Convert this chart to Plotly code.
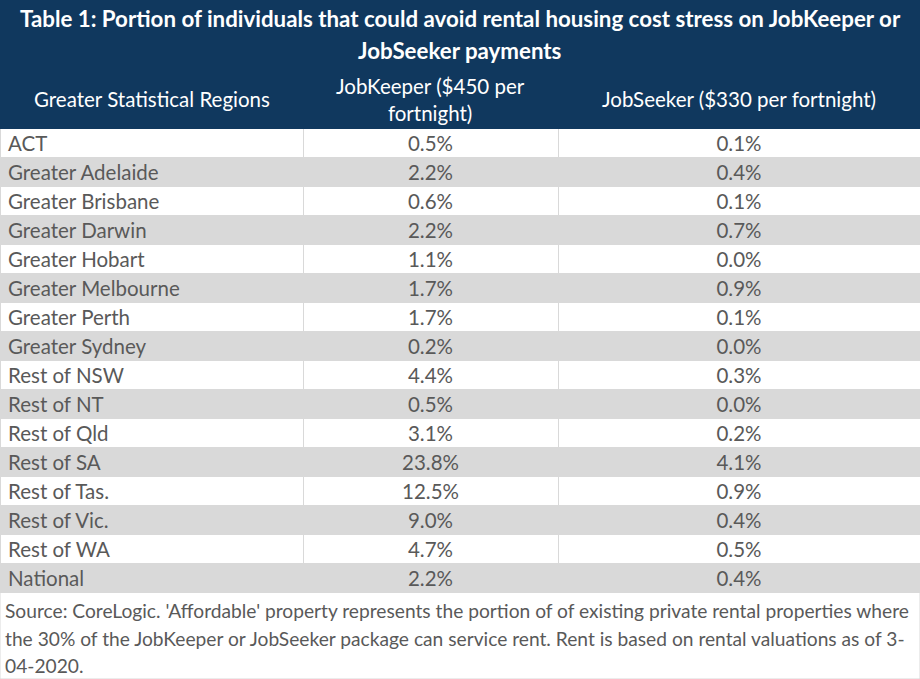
import plotly.graph_objects as go

title_lines = ["Table 1: Portion of individuals that could avoid rental housing cost stress on JobKeeper or",
               "JobSeeker payments"]
headers = ["Greater Statistical Regions", "JobKeeper ($450 per<br>fortnight)", "JobSeeker ($330 per fortnight)"]
regions = ["ACT", "Greater Adelaide", "Greater Brisbane", "Greater Darwin", "Greater Hobart",
           "Greater Melbourne", "Greater Perth", "Greater Sydney", "Rest of NSW", "Rest of NT",
           "Rest of Qld", "Rest of SA", "Rest of Tas.", "Rest of Vic.", "Rest of WA", "National"]
jobkeeper = [0.5, 2.2, 0.6, 2.2, 1.1, 1.7, 1.7, 0.2, 4.4, 0.5, 3.1, 23.8, 12.5, 9.0, 4.7, 2.2]
jobseeker = [0.1, 0.4, 0.1, 0.7, 0.0, 0.9, 0.1, 0.0, 0.3, 0.0, 0.2, 4.1, 0.9, 0.4, 0.5, 0.4]
footnote_lines = [
    "Source: CoreLogic. 'Affordable' property represents the portion of of existing private rental properties where",
    "the 30% of the JobKeeper or JobSeeker package can service rent. Rent is based on rental valuations as of 3-",
    "04-2020.",
]

W, H = 920, 679
NAVY = "#10385e"
GREY = "#d9d9d9"
TXT = "#595959"
FONT = "Lato"

col_w = [303, 255, 362]
title_h = 68
header_h = 60
row_h = 29
table_bottom = title_h + header_h + row_h * len(regions)

row_fills = ["white" if i % 2 == 0 else GREY for i in range(len(regions))]


def py(px):
    return 1 - px / H


fig = go.Figure()
fig.add_trace(go.Table(
    domain=dict(x=[0, 1], y=[0, py(title_h)]),
    columnwidth=col_w,
    header=dict(
        values=["", "", ""],
        fill_color=NAVY,
        line=dict(color=NAVY, width=1),
        height=header_h,
    ),
    cells=dict(
        values=[regions, [f"{v:.1f}%" for v in jobkeeper], [f"{v:.1f}%" for v in jobseeker]],
        fill_color=[row_fills] * 3,
        line=dict(color=GREY, width=1),
        align=["left", "center", "center"],
        height=row_h,
        font=dict(family=FONT, size=20.5, color=TXT),
    ),
))

fig.add_shape(type="rect", xref="paper", yref="paper", x0=0, x1=1,
              y0=py(title_h), y1=1, fillcolor=NAVY, line=dict(width=0), layer="below")
fig.add_shape(type="rect", xref="paper", yref="paper", x0=0, x1=1,
              y0=0, y1=py(table_bottom), fillcolor="white",
              line=dict(color=GREY, width=1), layer="below")

# title
for line, yc in zip(title_lines, [18, 51]):
    fig.add_annotation(x=0.5, y=py(yc), xref="paper", yref="paper", xanchor="center", yanchor="middle",
                       text="<b>" + line + "</b>", showarrow=False,
                       font=dict(family=FONT, size=22.3, color="white"))

# header labels
x_edges = [0]
for w in col_w:
    x_edges.append(x_edges[-1] + w)
for i, h in enumerate(headers):
    xc = (x_edges[i] + x_edges[i + 1]) / 2 / W
    fig.add_annotation(x=xc, y=py(title_h + header_h / 2 + 1), xref="paper", yref="paper",
                       xanchor="center", yanchor="middle", text=h, showarrow=False, align="center",
                       font=dict(family=FONT, size=20.5, color="white"))

# footnote
for line, yc in zip(footnote_lines, [610, 638, 665]):
    fig.add_annotation(x=3 / W, y=py(yc), xref="paper", yref="paper",
                       xanchor="left", yanchor="middle", text=line, showarrow=False,
                       align="left", font=dict(family=FONT, size=19.2, color=TXT))

fig.update_layout(width=W, height=H, margin=dict(l=0, r=0, t=0, b=0),
                  paper_bgcolor="white", plot_bgcolor="white")
fig.write_html("out.html", config={"displayModeBar": False},
               post_script="document.body.style.margin='0px';")
